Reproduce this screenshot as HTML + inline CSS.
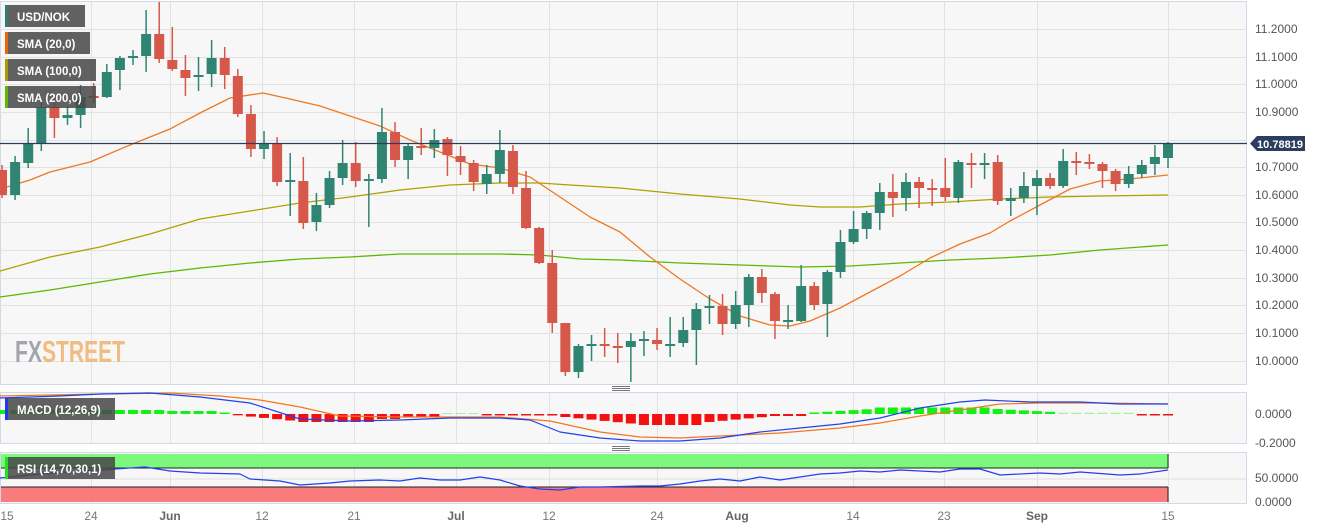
<!DOCTYPE html>
<html><head><meta charset="utf-8"><style>
html,body{margin:0;padding:0;background:#fff;width:1323px;height:529px;overflow:hidden}
svg{display:block;font-family:"Liberation Sans",sans-serif}
</style></head><body>
<svg id="c" width="1323" height="529" xmlns="http://www.w3.org/2000/svg">
<rect x="0.5" y="1.5" width="1246" height="383" fill="#f7f7f7" stroke="#d3d9e8"/>
<rect x="0.5" y="392.5" width="1246" height="51" fill="#f7f7f7" stroke="#d3d9e8"/>
<rect x="0.5" y="452.5" width="1246" height="51" fill="#f7f7f7" stroke="#d3d9e8"/>
<g id="grid" stroke="#e2e2e2" stroke-width="1"></g>
<g id="sub"></g>
<g id="main"></g>
<line x1="0" y1="143.5" x2="1247" y2="143.5" stroke="#2c3e60" stroke-width="1.2"/>
<path d="M1250,143.5 L1257,136 L1305,136 L1305,151 L1257,151 Z" fill="#2c3e60"/>
<text x="1257" y="148" fill="#fff" font-size="11" font-weight="bold" textLength="46" lengthAdjust="spacingAndGlyphs">10.78819</text>
<g fill="#555" font-size="12">
<text x="1255" y="33">11.2000</text><text x="1255" y="61">11.1000</text><text x="1255" y="88">11.0000</text>
<text x="1255" y="116">10.9000</text><text x="1255" y="171">10.7000</text><text x="1255" y="199">10.6000</text>
<text x="1255" y="226">10.5000</text><text x="1255" y="254">10.4000</text><text x="1255" y="282">10.3000</text>
<text x="1255" y="309">10.2000</text><text x="1255" y="337">10.1000</text><text x="1255" y="365">10.0000</text>
<text x="1255" y="418">0.0000</text><text x="1255" y="447">-0.2000</text>
<text x="1255" y="482">50.0000</text><text x="1255" y="506">0.0000</text>
</g>
<g fill="#777" font-size="12" text-anchor="middle">
<text x="7" y="520">15</text><text x="91" y="520">24</text><text x="170" y="520" font-weight="bold" fill="#666">Jun</text>
<text x="262" y="520">12</text><text x="354" y="520">21</text><text x="456" y="520" font-weight="bold" fill="#666">Jul</text>
<text x="549" y="520">12</text><text x="657" y="520">24</text><text x="737" y="520" font-weight="bold" fill="#666">Aug</text>
<text x="853" y="520">14</text><text x="944" y="520">23</text><text x="1037" y="520" font-weight="bold" fill="#666">Sep</text>
<text x="1168" y="520">15</text>
</g>
<g stroke="#777" stroke-width="1"><line x1="612" y1="386.5" x2="630" y2="386.5"/><line x1="612" y1="388.5" x2="630" y2="388.5"/><line x1="612" y1="390.5" x2="630" y2="390.5"/>
<line x1="612" y1="446.5" x2="630" y2="446.5"/><line x1="612" y1="448.5" x2="630" y2="448.5"/><line x1="612" y1="450.5" x2="630" y2="450.5"/></g>
<g font-weight="bold" font-size="31"><text x="15" y="362" fill="#a3a5ad" textLength="27" lengthAdjust="spacingAndGlyphs">FX</text><text x="42" y="362" fill="#f1bc82" textLength="83" lengthAdjust="spacingAndGlyphs">STREET</text></g>
<g font-size="11.5" fill="#fff" font-weight="bold">
<rect x="5" y="5" width="80" height="22" fill="rgba(70,70,70,0.85)"/><rect x="5" y="5" width="3" height="22" fill="#2e7d6e"/><text x="17" y="21">USD/NOK</text>
<rect x="5" y="32" width="85" height="22" fill="rgba(70,70,70,0.85)"/><rect x="5" y="32" width="3" height="22" fill="#e8650a"/><text x="17" y="48">SMA (20,0)</text>
<rect x="5" y="59" width="91" height="22" fill="rgba(70,70,70,0.85)"/><rect x="5" y="59" width="3" height="22" fill="#a89a00"/><text x="17" y="75">SMA (100,0)</text>
<rect x="5" y="86" width="91" height="22" fill="rgba(70,70,70,0.85)"/><rect x="5" y="86" width="3" height="22" fill="#5cb800"/><text x="17" y="102">SMA (200,0)</text>
<rect x="5" y="398" width="110" height="22" fill="rgba(70,70,70,0.85)"/><rect x="5" y="398" width="3" height="22" fill="#1a3cf0"/><text x="17" y="414">MACD (12,26,9)</text>
<rect x="5" y="457" width="110" height="22" fill="rgba(70,70,70,0.85)"/><rect x="5" y="457" width="3" height="22" fill="#22e022"/><text x="17" y="473">RSI (14,70,30,1)</text>
</g>
</svg>
<script>
const NS="http://www.w3.org/2000/svg";
function el(p,t,a){const e=document.createElementNS(NS,t);for(const k in a)e.setAttribute(k,a[k]);p.appendChild(e);return e;}
const grid=document.getElementById('grid'),main=document.getElementById('main'),sub=document.getElementById('sub');
[29,57,84,112,140,167,195,222,250,278,305,333,361].forEach(y=>el(grid,'line',{x1:0,x2:1247,y1:y+.5,y2:y+.5}));
[91,170,262,354,456,549,657,737,853,944,1037,1168].forEach(x=>{el(grid,'line',{x1:x+.5,x2:x+.5,y1:2,y2:384});el(grid,'line',{x1:x+.5,x2:x+.5,y1:393,y2:443});el(grid,'line',{x1:x+.5,x2:x+.5,y1:453,y2:503});});
el(sub,'rect',{x:1,y:454,width:1167,height:14,fill:'#7cf97c'});
el(sub,'rect',{x:1,y:487,width:1167,height:15,fill:'#fa7b7b'});
el(sub,'line',{x1:1,x2:1168,y1:468,y2:468,stroke:'#222'});
el(sub,'line',{x1:1,x2:1168,y1:487,y2:487,stroke:'#222'});
el(sub,'line',{x1:1168,x2:1168,y1:454,y2:468,stroke:'#222'});
el(sub,'line',{x1:1168,x2:1168,y1:487,y2:502,stroke:'#222'});
el(sub,'line',{x1:1,x2:1247,y1:479,y2:479,stroke:'#ddd'});
const C=[[170,195,165,198,0],[162,195,156,200,1],[144,163,128,168,1],[107,144,100,151,1],[107,118,100,138,0],[115,118,106,125,1],[97,115,85,128,1],[96,98,83,103,0],[72,97,64,98,1],[58,70,56,90,1],[56,58,50,65,1],[34,56,10,72,1],[34,59,2,63,0],[60,69,27,71,0],[70,78,55,96,0],[75,77,57,91,1],[58,74,40,87,1],[58,75,47,89,0],[76,114,69,117,0],[114,149,105,157,0],[143,149,131,159,1],[143,182,137,186,0],[180,182,153,216,1],[181,223,157,229,0],[205,222,193,231,1],[178,205,171,208,1],[163,178,140,185,1],[163,181,142,187,0],[179,181,174,227,1],[132,179,108,183,1],[132,160,122,167,0],[146,160,144,179,1],[146,148,128,155,0],[140,148,129,158,1],[139,155,137,176,0],[156,162,146,175,0],[163,182,160,191,0],[174,184,165,194,1],[150,174,130,183,1],[151,187,145,194,0],[188,228,171,229,0],[228,263,227,264,0],[263,323,250,333,0],[323,372,323,376,0],[346,372,344,378,1],[344,346,335,361,1],[344,346,328,357,0],[346,348,333,363,0],[341,347,333,382,1],[339,341,331,356,1],[340,344,328,350,0],[344,345,317,357,1],[330,343,317,347,1],[309,330,303,365,1],[306,308,295,324,1],[306,324,294,335,0],[305,324,291,329,1],[277,305,274,327,1],[277,293,269,303,0],[294,321,292,339,0],[320,322,305,329,1],[286,321,265,322,1],[286,305,282,310,0],[272,304,270,337,1],[242,272,230,278,1],[229,242,211,244,1],[213,229,211,239,1],[192,213,183,230,1],[192,198,174,217,0],[182,198,173,211,1],[182,188,177,208,0],[188,190,179,206,0],[188,197,158,201,0],[162,198,160,203,1],[163,165,153,188,0],[163,165,153,179,1],[162,201,155,205,0],[198,201,188,216,1],[186,198,172,203,1],[178,186,170,215,1],[178,186,173,189,0],[161,186,149,188,1],[161,163,152,175,0],[162,164,154,169,0],[164,171,162,188,0],[171,184,169,191,0],[174,184,166,188,1],[165,174,160,178,1],[157,164,145,175,1],[143,158,142,168,1]];
const N=C.length,sp=(1168-2)/(N-1);
function pl(pts,col,w,g){el(g||main,'polyline',{points:pts.map(p=>p.join(',')).join(' '),fill:'none',stroke:col,'stroke-width':w||1.3,'stroke-linejoin':'round'});}
pl([[0,297],[50,290],[100,282],[150,274],[200,268],[250,263],[300,259],[350,257],[400,254],[450,254],[500,254],[540,255],[580,259],[620,260],[680,263],[740,265],[800,267],[850,266],[900,263],[950,260],[1000,258],[1050,255],[1100,250],[1168,245]],'#5cb800');
pl([[0,271],[50,257],[100,247],[150,234],[200,219],[250,211],[300,203],[350,197],[400,190],[450,185],[500,183],[540,183],[570,185],[620,188],[680,194],[740,199],[790,205],[820,207],[860,207],[900,204],[950,202],[1000,199],[1050,197],[1100,196],[1168,195]],'#b0a000');
pl([[0,189],[30,180],[50,172],[90,162],[130,145],[170,129],[200,113],[230,98],[263,93],[290,99],[320,106],[350,116],[380,126],[410,140],[440,152],[470,164],[500,168],[530,177],[560,197],[590,217],[620,232],[650,257],[680,279],[710,299],[740,316],[770,325],[790,326],[810,321],[840,308],[870,292],[900,276],[930,258],[960,244],[990,233],[1010,221],[1040,205],[1070,189],[1100,181],[1130,179],[1168,175]],'#f07820');
C.forEach((c,i)=>{const x=2+i*sp,col=c[4]?'#2f8572':'#d6584a';
el(main,'line',{x1:x,x2:x,y1:c[2],y2:c[3],stroke:col,'stroke-width':1.5});
el(main,'rect',{x:x-5,y:c[0],width:10,height:Math.max(2,c[1]-c[0]),fill:col});});
const H=[];for(let i=0;i<N;i++){let v;
if(i<13)v=4;else if(i<17)v=3;else if(i<18)v=1.5;else if(i<23)v=-(i-17)*1.3;else if(i<29)v=-8;else if(i<31)v=-5;else if(i<34)v=-3;else if(i<37)v=1;else if(i<43)v=-1.5;else if(i<49)v=-(3+(i-43)*1.3);else if(i<54)v=-11;else if(i<59)v=-(8-(i-54)*1.2);else if(i<62)v=-2;else if(i<67)v=1.5+(i-62)*0.8;else if(i<76)v=6.5;else if(i<81)v=5-(i-76)*0.7;else if(i<87)v=1.2;else v=-1.5;H.push(v);}
H.forEach((v,i)=>{const x=2+i*sp;el(sub,'rect',{x:x-5,y:v>0?414-v:414,width:10,height:Math.max(1,Math.abs(v)),fill:v>0?(v<1.5&&i>30?'#9ef59e':'#12f212'):'#f51010'});});
pl([[0,396],[100,394],[170,393],[220,396],[260,400],[300,407],[340,416],[400,417],[500,417],[550,421],[600,432],[640,437],[680,438],[720,436],[780,433],[840,428],[880,423],[920,416],[960,410],[1000,404],[1040,403],[1100,403],[1168,404]],'#f07820',1.2,sub);
pl([[0,398],[60,396],[100,394],[150,393],[200,397],[250,403],[300,419],[350,421],[400,420],[450,418],[500,418],[530,420],[560,432],[600,438],[640,441],[680,441],[720,438],[760,432],[800,428],[840,424],[880,418],[920,408],[960,402],[985,400],[1030,402],[1080,402],[1120,404],[1168,404]],'#2040f0',1.2,sub);
pl([[0,478],[50,473],[100,470],[145,467],[170,471],[200,473],[240,474],[250,479],[280,481],[300,485],[330,483],[350,481],[380,480],[400,481],[420,478],[440,480],[460,480],[480,477],[500,480],[520,486],[540,489],[560,490],[580,487],[600,487],[640,486],[660,486],[680,484],[700,481],[720,479],[740,481],[760,477],[780,480],[800,477],[820,474],[840,473],[860,471],[880,472],[900,470],[940,472],[960,469],[980,469],[1000,475],[1040,473],[1060,474],[1080,472],[1120,475],[1140,474],[1168,470]],'#2040f0',1.2,sub);
</script>
</body></html>
